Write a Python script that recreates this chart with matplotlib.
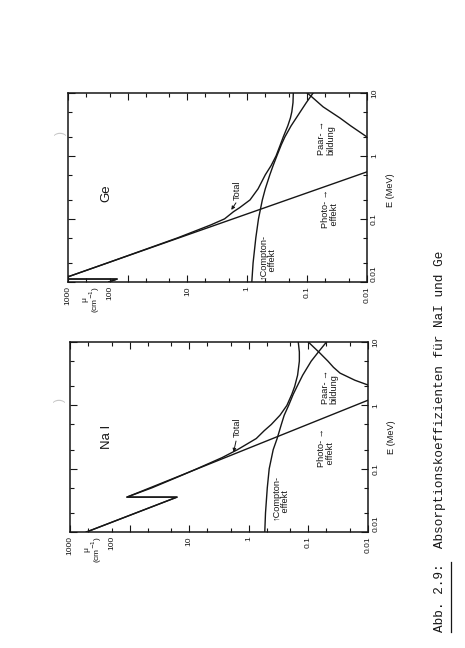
import matplotlib
matplotlib.use("Agg")
import matplotlib.pyplot as plt
from matplotlib.ticker import LogLocator, NullFormatter

plt.rcParams['font.family'] = ['Liberation Sans', 'DejaVu Sans']

# E in MeV, mu in 1/cm
# --- NaI ---
nai_photo_E = [0.01, 0.0356, 0.0356, 1.21]
nai_photo_mu = [530, 16, 111, 0.01]

nai_compton_E = [0.01, 0.02, 0.05, 0.1, 0.2, 0.3, 0.5, 0.7, 1, 1.5, 2, 3, 5, 7, 10]
nai_compton_mu = [0.54, 0.525, 0.49, 0.455, 0.39, 0.335, 0.285, 0.255, 0.215, 0.18,
                  0.155, 0.125, 0.09, 0.068, 0.05]

nai_total_E = [0.01, 0.0356, 0.0356, 0.05, 0.08, 0.1, 0.15, 0.2, 0.3, 0.4, 0.5, 0.7,
               1, 1.5, 2, 3, 5, 7, 10]
nai_total_mu = [530, 16, 111, 42, 12.8, 7.4, 2.8, 1.55, 0.75, 0.55, 0.42, 0.3,
                0.23, 0.19, 0.17, 0.152, 0.142, 0.142, 0.148]

nai_pair_E = [2.1, 2.5, 3.24, 4, 5, 6.7, 10]
nai_pair_mu = [0.01, 0.0166, 0.0295, 0.038, 0.047, 0.064, 0.1]

# --- Ge ---
ge_photo_E = [0.01, 0.0111, 0.0111, 0.557]
ge_photo_mu = [205, 150, 1270, 0.01]

ge_compton_E = [0.01, 0.02, 0.05, 0.1, 0.2, 0.3, 0.5, 0.7, 1, 1.5, 2, 3, 5, 7, 10]
ge_compton_mu = [0.84, 0.8, 0.72, 0.65, 0.56, 0.5, 0.42, 0.37, 0.32, 0.27, 0.235,
                 0.185, 0.13, 0.103, 0.079]

ge_total_E = [0.01, 0.0111, 0.0111, 0.02, 0.05, 0.08, 0.1, 0.13, 0.15, 0.2, 0.3, 0.5,
              0.7, 1, 1.5, 2, 3, 4, 5, 7, 10]
ge_total_mu = [205, 150, 1270, 218, 14.6, 4.1, 2.4, 1.7, 1.35, 0.9, 0.66, 0.5,
               0.4, 0.33, 0.28, 0.25, 0.21, 0.19, 0.18, 0.172, 0.17]

ge_pair_E = [2.0, 3, 4, 6, 8.6, 10]
ge_pair_mu = [0.01, 0.0187, 0.0283, 0.054, 0.083, 0.1]

mu_ticks = [1000, 100, 10, 1, 0.1, 0.01]
mu_labels = ['1000', '', '10', '1', '0.1', '0.01']
E_ticks = [0.01, 0.1, 1, 10]
E_labels = ['0.01', '0.1', '1', '10']

ink = '#161616'
fs_tick = 6
fs_txt = 6.6


def draw_panel(ax, curves, name, name_pos, total_arrow, comp_pos, photo_pos, paar_pos):
    for E, mu in curves:
        ax.plot(mu, E, color=ink, lw=1.0)
    ax.set_xscale('log')
    ax.set_yscale('log')
    ax.set_xlim(1000, 0.01)
    ax.set_ylim(0.01, 10)

    ax.set_xticks(mu_ticks, mu_labels)
    ax.set_yticks(E_ticks, E_labels)
    ax.xaxis.set_minor_locator(LogLocator(base=10, subs=(2, 5)))
    ax.yaxis.set_minor_locator(LogLocator(base=10, subs=(2, 5)))
    ax.xaxis.set_minor_formatter(NullFormatter())
    ax.yaxis.set_minor_formatter(NullFormatter())
    ax.tick_params(which='both', direction='in', top=True, bottom=True, left=True,
                   right=True, labelleft=False, labelright=True, colors=ink,
                   labelsize=fs_tick, width=0.8, pad=3)
    ax.tick_params(which='major', length=5)
    ax.tick_params(which='minor', length=3)
    for lbl in ax.get_xticklabels():
        lbl.set_rotation(90)
        lbl.set_va('top')
        lbl.set_ha('center')
    for lbl in ax.get_yticklabels():
        lbl.set_rotation(90)
        lbl.set_va('center')
        lbl.set_ha('left')
    ax.get_yticklabels()[0].set_va('bottom')
    for sp in ax.spines.values():
        sp.set_linewidth(1.1)
        sp.set_color(ink)

    # "100" label sits left of its tick in the original
    ax.text(0.141, -0.018, '100', transform=ax.transAxes, rotation=90,
            ha='center', va='top', fontsize=fs_tick, color=ink)
    ax.text(0.08, -0.02, 'μ\n(cm$^{-1}$)', transform=ax.transAxes, rotation=90,
            ha='center', va='top', fontsize=fs_tick, color=ink, linespacing=0.95)
    ax.text(1.08, 0.5 if name == 'Na I' else 0.487, 'E (MeV)', transform=ax.transAxes,
            rotation=90, ha='center', va='center', fontsize=fs_txt, color=ink)

    ax.text(name_pos[0], name_pos[1], name, transform=ax.transAxes, rotation=90,
            ha='center', va='center', fontsize=9.5, color=ink)

    tx, ty, tail, head = total_arrow
    ax.text(tx, ty, 'Total', transform=ax.transAxes, rotation=90,
            ha='center', va='center', fontsize=fs_txt, color=ink)
    ax.annotate('', xy=head, xycoords='data', xytext=tail, textcoords='axes fraction',
                arrowprops=dict(arrowstyle='-|>', color=ink, lw=0.7,
                                mutation_scale=5, shrinkA=0, shrinkB=0))

    ax.text(comp_pos[0], comp_pos[1], '↑Compton-\n   effekt', transform=ax.transAxes,
            rotation=90, ha='center', va='center', multialignment='left',
            fontsize=fs_txt, color=ink, linespacing=1.0)
    ax.text(photo_pos[0], photo_pos[1], 'Photo- →\n effekt', transform=ax.transAxes,
            rotation=90, ha='center', va='center', multialignment='left',
            fontsize=fs_txt, color=ink, linespacing=1.0)
    ax.text(paar_pos[0], paar_pos[1], 'Paar- →\nbildung', transform=ax.transAxes,
            rotation=90, ha='center', va='center', multialignment='left',
            fontsize=fs_txt, color=ink, linespacing=1.0)


fig = plt.figure(figsize=(4.65, 6.48), dpi=100)
fig.patch.set_facecolor('white')

ax_ge = fig.add_axes([0.146, 0.565, 0.643, 0.2917])
ax_nai = fig.add_axes([0.1505, 0.179, 0.641, 0.293])

draw_panel(ax_nai,
           [(nai_photo_E, nai_photo_mu), (nai_total_E, nai_total_mu),
            (nai_compton_E, nai_compton_mu), (nai_pair_E, nai_pair_mu)],
           'Na I', (0.124, 0.5),
           (0.56, 0.553, (0.557, 0.479), (1.8, 0.183)),
           (0.708, 0.184), (0.859, 0.447), (0.872, 0.763))

draw_panel(ax_ge,
           [(ge_photo_E, ge_photo_mu), (ge_total_E, ge_total_mu),
            (ge_compton_E, ge_compton_mu), (ge_pair_E, ge_pair_mu)],
           'Ge', (0.13, 0.47),
           (0.565, 0.487, (0.562, 0.418), (1.85, 0.139)),
           (0.669, 0.132), (0.876, 0.39), (0.863, 0.762))

# caption, typewriter style, rotated like the page
fig.text(0.946, 0.025, 'Abb. 2.9:  Absorptionskoeffizienten für NaI und Ge',
         rotation=90, ha='center', va='bottom', fontsize=9.2,
         family=['Liberation Mono', 'DejaVu Sans Mono'], color=ink)
fig.add_artist(plt.Line2D([451 / 465, 451 / 465], [1 - 632 / 648, 1 - 562 / 648],
                          color=ink, lw=0.9, transform=fig.transFigure))

# faint punch-hole marks from the scan
fig.text(57 / 465, 1 - 400 / 648, '(', rotation=-90, ha='center', va='center',
         fontsize=9, color='0.78')
fig.text(58 / 465, 1 - 133 / 648, '(', rotation=-90, ha='center', va='center',
         fontsize=9, color='0.78')

fig.savefig('out.png', dpi=100, facecolor='white')
